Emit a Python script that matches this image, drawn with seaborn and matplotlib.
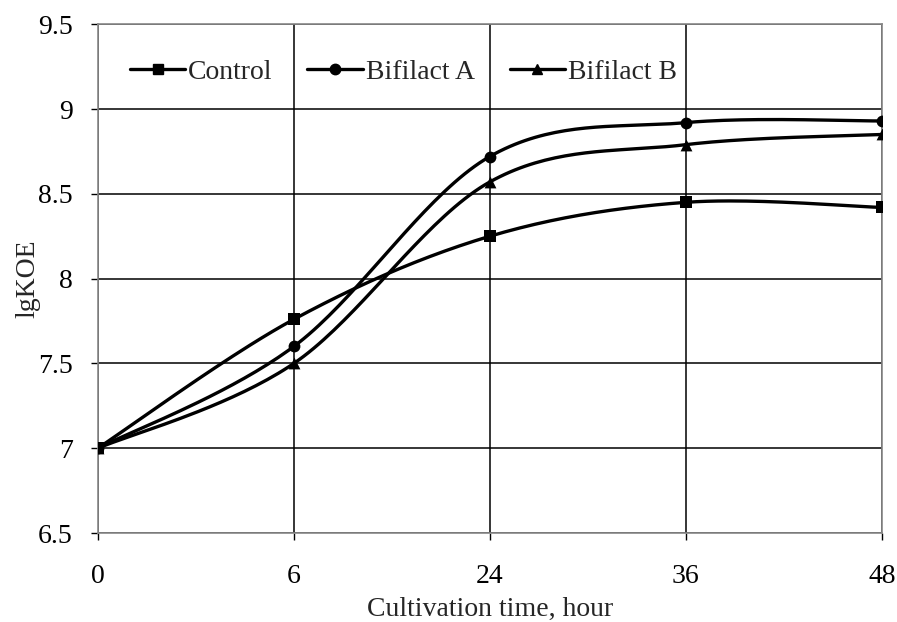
import numpy as np
import pandas as pd
import matplotlib
matplotlib.use("Agg")
import matplotlib.pyplot as plt
import seaborn as sns
from matplotlib.lines import Line2D

hours = ["0", "6", "24", "36", "48"]
control = [7.00, 7.76, 8.25, 8.45, 8.42]
bifilact_a = [7.00, 7.60, 8.72, 8.92, 8.93]
bifilact_b = [7.00, 7.50, 8.57, 8.79, 8.85]
series_names = ["Control", "Bifilact A", "Bifilact B"]
yticks = [6.5, 7, 7.5, 8, 8.5, 9, 9.5]
ytick_labels = ["6.5", "7", "7.5", "8", "8.5", "9", "9.5"]

sns.set_theme(style="white")
plt.rcParams["font.family"] = ["Liberation Serif", "DejaVu Serif"]

fig = plt.figure(figsize=(8.97, 6.22), dpi=100)
ax = fig.add_axes([0.109, 0.143, 0.874, 0.818])

def smooth(xs, ys, n=40):
    # Excel-like smoothed line: cubic Bezier with Catmull-Rom control points
    xs = np.asarray(xs, float); ys = np.asarray(ys, float)
    P = np.column_stack([xs, ys])
    out = []
    for i in range(len(P) - 1):
        p0 = P[i - 1] if i > 0 else P[i]
        p1 = P[i]; p2 = P[i + 1]
        p3 = P[i + 2] if i + 2 < len(P) else P[i + 1]
        c1 = p1 + (p2 - p0) / 6.0
        c2 = p2 - (p3 - p1) / 6.0
        t = np.linspace(0, 1, n)[:, None]
        seg = ((1 - t) ** 3) * p1 + 3 * ((1 - t) ** 2) * t * c1 + 3 * (1 - t) * t ** 2 * c2 + t ** 3 * p2
        out.append(seg if i == 0 else seg[1:])
    out = np.vstack(out)
    return out[:, 0], out[:, 1]

xpos = np.arange(len(hours))
markers = ["s", "o", "^"]
msizes = [8, 8.5, 8.5]
df = pd.DataFrame({
    "x": np.tile(xpos, 3),
    "y": control + bifilact_a + bifilact_b,
    "series": np.repeat(series_names, len(hours)),
})
handles = []
for name, vals, m, ms in zip(series_names, [control, bifilact_a, bifilact_b], markers, msizes):
    sx, sy = smooth(xpos, vals)
    ax.plot(sx, sy, color="black", lw=2.4, zorder=3)
    sub = df[df.series == name]
    sns.scatterplot(data=sub, x="x", y="y", marker=m, color="black", s=ms ** 2,
                    edgecolor="black", linewidth=0, ax=ax, zorder=4, legend=False)
    handles.append(Line2D([0], [0], color="black", lw=2.4, marker=m, markersize=ms - 1))

ax.set_xlim(0, len(hours) - 1)
ax.set_ylim(6.5, 9.5)
ax.set_xticks(xpos)
ax.set_xticklabels(hours)
ax.set_yticks(yticks)
ax.set_yticklabels(ytick_labels)
ax.grid(True, color="black", lw=1.1)
ax.set_axisbelow(True)
for s in ax.spines.values():
    s.set_color("#888888")
    s.set_linewidth(1.2)
ax.tick_params(axis="both", labelsize=20, colors="black", length=5, width=1.0,
               direction="out", left=True, bottom=True)
ax.tick_params(axis="x", pad=17)
ax.tick_params(axis="y", pad=13)
ax.set_xlabel("Cultivation time, hour", fontsize=20, labelpad=6)
ax.set_ylabel("lgKOE", fontsize=20, labelpad=-1.5)

ax.legend(handles, series_names, loc="center left", ncol=3, frameon=False,
          fontsize=20, bbox_to_anchor=(0.041, 0.906), borderaxespad=0, borderpad=0,
          handlelength=2.0, handletextpad=0.1, columnspacing=1.25)

fig.savefig("out.png", dpi=100)
